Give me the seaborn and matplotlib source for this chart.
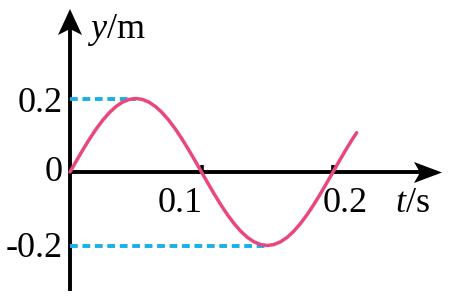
import matplotlib
matplotlib.use("Agg")
import matplotlib.pyplot as plt
import seaborn as sns
import pandas as pd

# ---- data ----
t_values = [0.000, 0.005, 0.010, 0.015, 0.020, 0.025, 0.030, 0.035, 0.040, 0.045,
            0.050, 0.055, 0.060, 0.065, 0.070, 0.075, 0.080, 0.085, 0.090, 0.095,
            0.100, 0.105, 0.110, 0.115, 0.120, 0.125, 0.130, 0.135, 0.140, 0.145,
            0.150, 0.155, 0.160, 0.165, 0.170, 0.175, 0.180, 0.185, 0.190, 0.195,
            0.200, 0.205, 0.210, 0.215, 0.218]
y_values = [0.0000, 0.0313, 0.0618, 0.0908, 0.1176, 0.1414, 0.1618, 0.1782, 0.1902, 0.1975,
            0.2000, 0.1975, 0.1902, 0.1782, 0.1618, 0.1414, 0.1176, 0.0908, 0.0618, 0.0313,
            0.0000, -0.0313, -0.0618, -0.0908, -0.1176, -0.1414, -0.1618, -0.1782, -0.1902, -0.1975,
            -0.2000, -0.1975, -0.1902, -0.1782, -0.1618, -0.1414, -0.1176, -0.0908, -0.0618, -0.0313,
            0.0000, 0.0313, 0.0618, 0.0908, 0.1070]
peak_t = 0.05
trough_t = 0.15
amp_levels = [0.2, -0.2]
y_tick_labels = ["0.2", "0", "-0.2"]
x_ticks = [0.1, 0.2]
x_tick_labels = ["0.1", "0.2"]

sns.set_theme(style="white")
plt.rcParams['font.family'] = ['Liberation Serif', 'DejaVu Serif']
plt.rcParams['mathtext.fontset'] = 'custom'
plt.rcParams['mathtext.rm'] = 'Liberation Serif'
plt.rcParams['mathtext.it'] = 'Liberation Serif:italic'
plt.rcParams['text.color'] = 'black'

fig = plt.figure(figsize=(4.5, 2.98), dpi=100)
ax = fig.add_axes([0, 0, 1, 1])
ax.set_axis_off()

# pixel -> data helpers (layout only)
X0, XS = 70, 1315.0
Y0, YS = 172, 367.5
def px(x):
    return (x - X0) / XS
def py(y):
    return (Y0 - y) / YS

ax.set_xlim(px(0), px(450))
ax.set_ylim(py(298), py(0))

axis_lw = 2.8
# axis lines
ax.plot([0, 0], [py(291), py(28)], color='black', lw=axis_lw, solid_capstyle='butt')
ax.plot([0, px(422)], [0, 0], color='black', lw=axis_lw, solid_capstyle='butt')
# arrowheads (stealth shape)
ax.fill([px(70), px(58), px(70), px(82)], [py(9), py(35), py(29), py(35)],
        color='black', lw=0)
ax.fill([px(442), px(414), px(420), px(414)], [py(172.5), py(162), py(172.5), py(183)],
        color='black', lw=0)

# small ticks
for xt in x_ticks:
    ax.plot([xt, xt], [0, py(165)], color='black', lw=2.6, solid_capstyle='butt')

# dashed guide lines
cyan = '#1AAFE6'
ax.plot([0, peak_t], [amp_levels[0], amp_levels[0]], color=cyan, lw=2.8,
        dashes=(2.0, 1.2), dash_capstyle='butt')
ax.plot([0, trough_t], [amp_levels[1], amp_levels[1]], color=cyan, lw=2.8,
        dashes=(2.0, 1.2), dash_capstyle='butt')

# curve
df = pd.DataFrame({"t": t_values, "y": y_values})
sns.lineplot(data=df, x="t", y="y", ax=ax, color='#E8487E', lw=2.5, sort=False)
ax.set_xlabel("")
ax.set_ylabel("")

fs = 26
# y tick labels
for lab, base in zip(y_tick_labels, [112, 181, 257]):
    ax.text(px(63), py(base), lab, ha='right', va='baseline', fontsize=fs)
# x tick labels
ax.text(px(180), py(212), x_tick_labels[0], ha='center', va='baseline', fontsize=fs)
ax.text(px(345), py(212), x_tick_labels[1], ha='center', va='baseline', fontsize=fs)

# axis titles
ax.text(px(395), py(212), r"$t$/s", ha='left', va='baseline', fontsize=fs)
ax.text(px(87), py(38), r"$y$/m", ha='left', va='baseline', fontsize=fs)

fig.savefig("out.png", dpi=100)
